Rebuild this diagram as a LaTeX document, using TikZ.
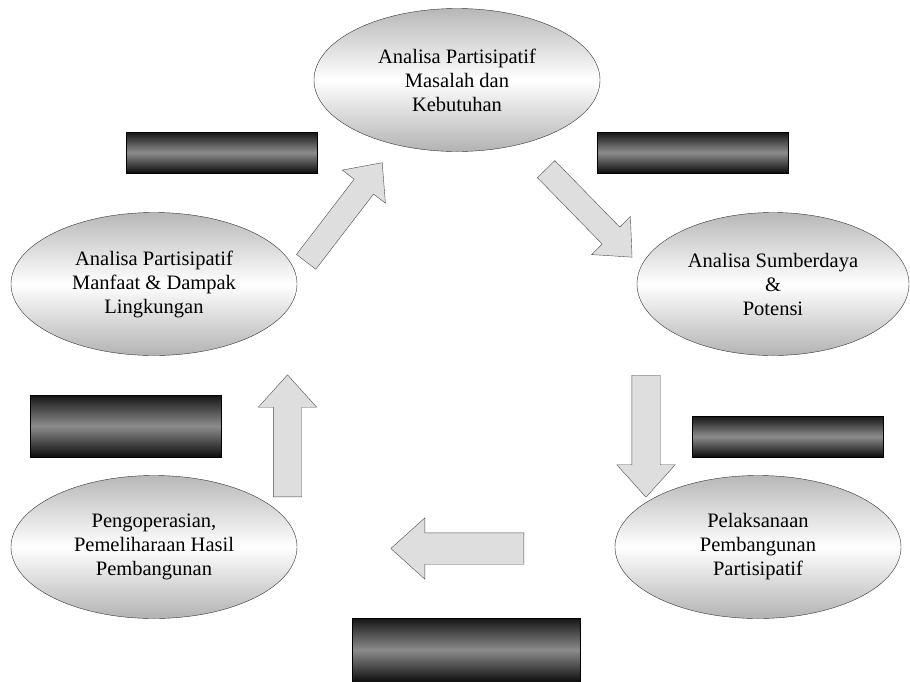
\documentclass[tikz,border=0pt]{standalone}
\usepackage{fontspec}
\setmainfont{Liberation Serif}
\usetikzlibrary{shapes.geometric,shapes.arrows}

\tikzset{
  stage/.style={ellipse, draw=black!80, thin, top color=black!28, bottom color=black!30, middle color=white,
    minimum width=286pt, minimum height=143pt, align=center, inner sep=0pt, font=\fontsize{20.5}{24}\selectfont},
  bar/.style={rectangle, draw=black, top color=black!92, bottom color=black!95, middle color=black!45,
    minimum width=191pt, minimum height=41pt, inner sep=0pt},
  flow/.style={single arrow, draw=black!70, fill=black!13, minimum height=122pt,
    text height=14pt, text depth=14pt, single arrow head extend=15pt, single arrow tip angle=84,
    inner sep=0pt, anchor=tail}
}

\begin{document}
\begin{tikzpicture}[x=1pt,y=-1pt]
\useasboundingbox (0,0) rectangle (910,681);

% Stages of the cycle
\node[stage] (masalah) at (457,80) {Analisa Partisipatif\\Masalah dan\\Kebutuhan};
\node[stage, minimum width=272pt] (sumberdaya) at (773,284) {Analisa Sumberdaya\\\&\\Potensi};
\node[stage] (pelaksanaan) at (758,547) {Pelaksanaan\\Pembangunan\\Partisipatif};
\node[stage] (pengoperasian) at (154,547) {Pengoperasian,\\Pemeliharaan Hasil\\Pembangunan};
\node[stage] (manfaat) at (154,284) {Analisa Partisipatif\\Manfaat \& Dampak\\Lingkungan};

% Dark bars
\foreach \name/\x/\y/\h in {barA/221.5/152.5/41pt, barB/693/152.5/41pt, barC/126/426/62pt, barD/788/436.5/41pt}
  \node[bar, minimum height=\h] (\name) at (\x,\y) {};
\node[bar, minimum width=228pt, minimum height=64pt] (barE) at (466,650) {};

% Block arrows
\node[flow, rotate=52.5, minimum height=125pt, text height=12pt, text depth=12pt] (toMasalah) at (306,262) {};
\node[flow, rotate=-45.7, minimum height=123pt, text height=12pt, text depth=12pt] (toSumberdaya) at (546,169) {};
\node[flow, rotate=-90] (toPelaksanaan) at (646,375) {};
\node[flow, rotate=180, minimum height=133pt, text height=15.5pt, text depth=15.5pt] (toPengoperasian) at (524,548.5) {};
\node[flow, rotate=90] (toManfaat) at (287.5,497) {};
\end{tikzpicture}
\end{document}
